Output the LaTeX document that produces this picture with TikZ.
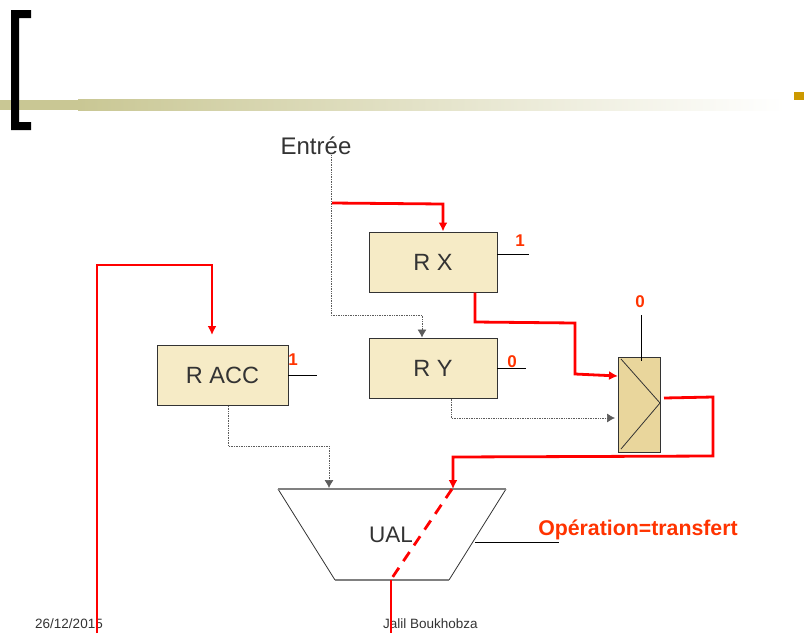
\documentclass[tikz,border=0pt]{standalone}
\usepackage{fontspec}
\setmainfont{Liberation Sans}
\usetikzlibrary{arrows.meta}
\definecolor{regfill}{HTML}{F6EBC6}
\definecolor{muxfill}{HTML}{E9D69C}
\definecolor{labred}{HTML}{FF3300}
\definecolor{barcol}{HTML}{C9C794}
\definecolor{inkc}{HTML}{333333}
\definecolor{markc}{HTML}{CC9900}
\tikzset{
  x=1pt,y=-1pt,
  reg/.style={draw=inkc,line width=1pt,fill=regfill,inner sep=0pt,text=inkc,font=\fontsize{23.5}{25}\selectfont},
  bit/.style={text=labred,inner sep=0pt,font=\bfseries\fontsize{17}{19}\selectfont},
  plainlab/.style={inner sep=0pt,text=inkc},
  redwire/.style={red,line width=2.8pt,-{Latex[length=9pt,width=9pt]}},
  redplain/.style={red,line width=2.8pt},
  dotwire/.style={inkc!80,line width=.7pt,densely dotted,-{Latex[length=8pt,width=9pt]}},
  tick/.style={black,line width=.8pt},
  chev/.style={inkc,line width=.8pt}
}
\begin{document}
\begin{tikzpicture}
\useasboundingbox (0,0) rectangle (804,633);
\clip (0,0) rectangle (804,633);
% title band
\fill[barcol] (0,100) rectangle (78,110);
\shade[left color=barcol,right color=white,shading=axis] (78,99) rectangle (785,110);
\fill[black] (11,10) -- (31,10) -- (31,18) -- (19,18) -- (19,122) -- (31,122) -- (31,130) -- (11,130) -- cycle;
\fill[markc] (794,92) rectangle (804,100);
% nodes
\node[plainlab,font=\fontsize{24}{26}\selectfont] (in) at (316,146) {Entrée};
\node[reg,minimum width=128pt,minimum height=60pt] (rx) at (433,262) {R X};
\node[reg,minimum width=128pt,minimum height=60pt] (ry) at (433,368) {R Y};
\node[reg,minimum width=131pt,minimum height=60pt] (racc) at (222.5,375.5) {R ACC};
\node[draw=inkc,line width=1pt,fill=muxfill,inner sep=0pt,minimum width=42pt,minimum height=95pt] (mux) at (639.5,404.5) {};
\coordinate (ub) at (392,580);
\draw[inkc,line width=.8pt] (278,489) -- (335,580) (506,489) -- (449,580);
\draw[gray,line width=1.2pt] (278,489) -- (506,489) (335,580) -- (449,580);
\node[plainlab,font=\fontsize{22.5}{24}\selectfont] (ual) at (391,535) {UAL};
\node[bit] (b1) at (520,241) {1};
\node[bit] (b2) at (640,302) {0};
\node[bit] (b3) at (293,360) {1};
\node[bit] (b4) at (512,362) {0};
\node[text=labred,inner sep=0pt,font=\bfseries\fontsize{21.3}{23}\selectfont] (op) at (638,530) {Opération=transfert};
\node[plainlab,font=\fontsize{13.5}{15}\selectfont] (date) at (69,624) {26/12/2015};
\node[plainlab,font=\fontsize{13.5}{15}\selectfont] (auth) at (430.5,624) {Jalil Boukhobza};
% free ends
\coordinate (rxt) at (497,254);
\coordinate (ryt) at (497,368);
\coordinate (act) at (288,375);
\coordinate (ot) at (475,542);
% mux inner
\draw[chev] (621,359) -- (660,403) -- (621,449);
% control ticks
\draw[tick] (rxt) -- +(32,0);
\draw[tick] (ryt) -- +(29,0);
\draw[tick] (act) -- +(29,0);
\draw[tick] (ot) -- +(84,0);
\draw[tick] (641,315) -- (641,361);
% dotted data paths
\draw[dotwire] (in.south -| 331,0) -- (331,315) -- (422,315) -- (ry.north -| 422,0);
\draw[dotwire] (ry.south -| 451,0) -- (451,418) -- (615,418);
\draw[dotwire] (racc.south -| 228,0) -- (228,446) -- (329,446) -- (329,488);
% red active paths
\draw[redwire] (332,203) -- (443,204) -- (rx.north -| 443,0);
\draw[redwire] (97,633) -- (97,265) -- (212,265) -- (212,335);
\draw[redwire] (rx.south -| 475,0) -- (475,322) -- (575,323) -- (575,374) -- (mux.west |- 0,376);
\draw[redwire] (664,398) -- (713,397) -- (713,456) -- (453,457) -- (453,489);
\draw[redplain,dash pattern=on 11pt off 8pt] (452,489) -- (392,578);
\draw[redplain] (ub -| 391,0) -- (391,633);
\end{tikzpicture}
\end{document}
